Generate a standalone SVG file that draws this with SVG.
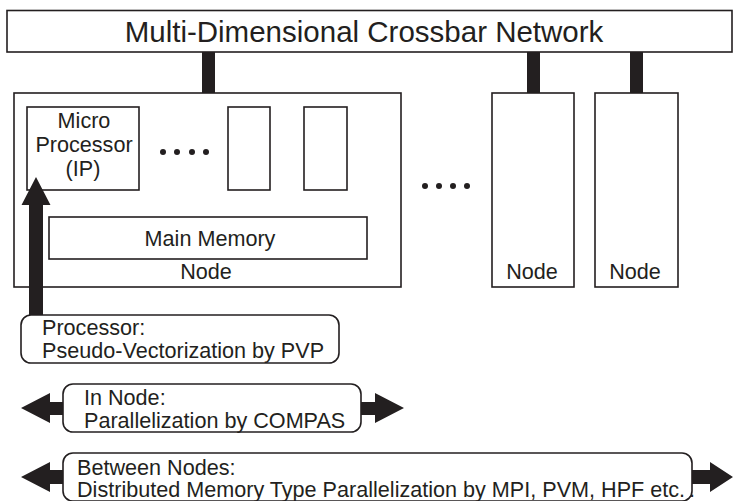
<svg xmlns="http://www.w3.org/2000/svg" width="733" height="501" viewBox="0 0 733 501">
<style>
.box{fill:#fff;stroke:#231f20;stroke-width:1.6}
.t{font-family:"Liberation Sans",Arial,sans-serif;font-size:21.6px;fill:#231f20}
.c{text-anchor:middle}
.bar{fill:#231f20}
.dot{fill:#231f20}
</style>
<rect width="733" height="501" fill="#fff"/>
<g id="connectors">
<rect class="bar" x="202" y="52" width="13" height="41"/>
<rect class="bar" x="527" y="52" width="13" height="41"/>
<rect class="bar" x="630" y="52" width="13" height="41"/>
<rect class="bar" x="76" y="190" width="8" height="27"/>
<rect class="bar" x="246" y="190" width="8" height="27"/>
<rect class="bar" x="322" y="190" width="8" height="27"/>
</g>
<g id="network">
<rect class="box" x="7" y="10.5" width="725" height="41.5"/>
<text class="t c" x="364" y="42" style="font-size:29.5px">Multi-Dimensional Crossbar Network</text>
</g>
<g id="node1">
<rect class="box" x="14" y="93" width="387" height="194"/>
<text class="t c" x="206" y="279">Node</text>
</g>
<g id="microprocessor">
<rect class="box" x="27" y="107" width="112" height="83"/>
<text class="t c" x="84" y="128">Micro</text>
<text class="t c" x="84" y="152">Processor</text>
<text class="t c" x="83" y="176">(IP)</text>
</g>
<g id="proc2"><rect class="box" x="228" y="107" width="42" height="83"/></g>
<g id="proc3"><rect class="box" x="304" y="107" width="43" height="83"/></g>
<g id="dots1">
<circle class="dot" cx="163" cy="152" r="3"/>
<circle class="dot" cx="177" cy="152" r="3"/>
<circle class="dot" cx="192" cy="152" r="3"/>
<circle class="dot" cx="206" cy="152" r="3"/>
</g>
<g id="memory">
<rect class="box" x="49" y="217" width="318" height="42"/>
<text class="t c" x="210" y="246">Main Memory</text>
</g>
<g id="dots2">
<circle class="dot" cx="425" cy="186" r="3"/>
<circle class="dot" cx="439" cy="186" r="3"/>
<circle class="dot" cx="453" cy="186" r="3"/>
<circle class="dot" cx="467" cy="186" r="3"/>
</g>
<g id="node2">
<rect class="box" x="492" y="93" width="82" height="194"/>
<text class="t c" x="532" y="279">Node</text>
</g>
<g id="node3">
<rect class="box" x="595" y="93" width="83" height="194"/>
<text class="t c" x="635" y="279">Node</text>
</g>
<g id="arrows">
<polygon class="bar" points="29,315 29,205 21.5,205 36,177 50.5,205 43,205 43,315"/>
<polygon class="bar" points="63,402 50,402 50,393 21,408 50,423 50,415 63,415"/>
<polygon class="bar" points="361,402 375,402 375,393 404,408 375,423 375,415 361,415"/>
<polygon class="bar" points="63,470 50,470 50,462 21,477 50,492 50,484 63,484"/>
<polygon class="bar" points="692,470 710,470 710,462 733,477 710,492 710,484 692,484"/>
</g>
<g id="processor-label">
<rect class="box" x="21" y="315" width="318" height="48" rx="10"/>
<text class="t" x="42" y="335">Processor:</text>
<text class="t" x="42" y="358">Pseudo-Vectorization by PVP</text>
</g>
<g id="innode-label">
<rect class="box" x="63" y="384" width="298" height="48" rx="10"/>
<text class="t" x="84" y="405">In Node:</text>
<text class="t" x="84" y="428">Parallelization by COMPAS</text>
</g>
<g id="between-label">
<rect class="box" x="63" y="453" width="629" height="48" rx="10"/>
<text class="t" x="77" y="475">Between Nodes:</text>
<text class="t" x="77" y="497">Distributed Memory Type Parallelization by MPI, PVM, HPF etc.<tspan dx="4">.</tspan></text>
</g>
</svg>
